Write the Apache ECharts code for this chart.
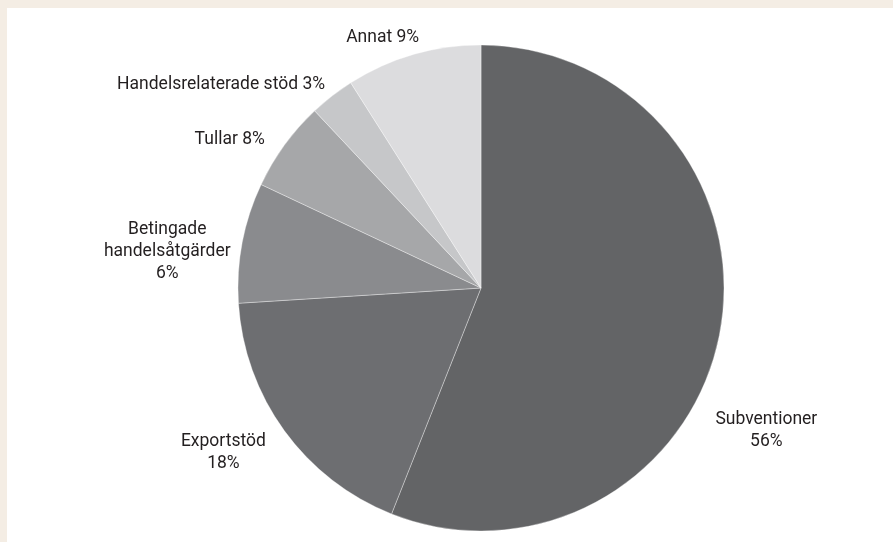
<!DOCTYPE html>
<html><head><meta charset="utf-8">
<script src="https://cdn.jsdelivr.net/npm/echarts@6/dist/echarts.min.js"></script>
<style>
html,body{margin:0;padding:0;background:#f4ede4;}
#frame{position:absolute;left:7px;top:8px;width:886px;height:534px;background:#ffffff;}
#chart{width:100%;height:100%;}
</style></head>
<body><div id="frame"><div id="chart"></div></div>
<script>
const categories = ['Subventioner','Exportstöd','Betingade\nhandelsåtgärder','Tullar','Handelsrelaterade stöd','Annat'];
const values = [56, 18, 8, 6, 3, 9];
const pctLabels = ['56%','18%','6%','8%','3%','9%'];
const sep = ['\n','\n','\n',' ',' ',' '];
const colors = ['#636466','#6d6e71','#8a8b8e','#a6a7a9','#c6c7c9','#dcdcde'];
// label nudges relative to the library's outside-label layout
const labelShift = [[-27, 94], [1, 11], [11, 13], [0, 5], [9, 3], [16, 0]];

const chart = echarts.init(document.getElementById('chart'));
chart.setOption({
  animation:false,
  series:[{
    type:'pie',
    center:[474, 280],
    radius:[0, 243],
    startAngle:90,
    clockwise:true,
    data: categories.map((c,i)=>({name:c, value:values[i], itemStyle:{color:colors[i]},
      label:{formatter: c + sep[i] + pctLabels[i]}})),
    itemStyle:{borderColor:'#ffffff', borderWidth:0.35},
    label:{show:true, position:'outside', fontFamily:'Roboto', fontSize:17.5, color:'#231f20', lineHeight:22},
    labelLine:{show:false, length:18, length2:0},
    labelLayout: function (p) {
      const r = p.labelRect, s = labelShift[p.dataIndex];
      return { x: r.x + r.width / 2 + s[0], y: r.y + r.height / 2 + s[1], align: 'center', verticalAlign: 'middle' };
    },
    emphasis:{disabled:true}
  }]
});
</script></body></html>
